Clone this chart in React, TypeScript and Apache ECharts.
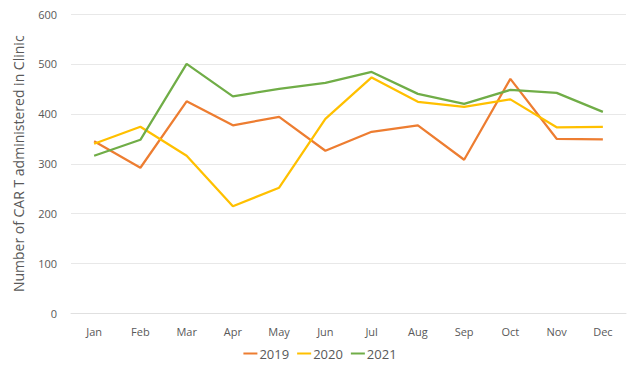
import React, { useEffect, useRef } from "react";
import * as echarts from "echarts";

const months = ["Jan", "Feb", "Mar", "Apr", "May", "Jun", "Jul", "Aug", "Sep", "Oct", "Nov", "Dec"];
const values2019 = [345, 292, 425, 377, 394, 326, 364, 377, 308, 470, 350, 349];
const values2020 = [340, 374, 316, 215, 252, 390, 473, 424, 414, 429, 373, 374];
const values2021 = [316, 348, 500, 435, 450, 462, 484, 440, 420, 448, 442, 404];
const yTicks = [0, 100, 200, 300, 400, 500, 600];

const FONT = "'Open Sans', 'Noto Sans', sans-serif";

export default function App() {
  const ref = useRef<HTMLDivElement>(null);
  useEffect(() => {
    if (!ref.current) return;
    const chart = echarts.init(ref.current, undefined, { renderer: "svg" });
    const mk = (name: string, data: number[], color: string) => ({
      name,
      type: "line",
      data,
      showSymbol: false,
      symbol: "none",
      lineStyle: { color, width: 2.25 },
      itemStyle: { color },
    });
    chart.setOption({
      animation: false,
      textStyle: { fontFamily: FONT },
      grid: { left: 71, right: 14, top: 14, bottom: 55.5 },
      legend: {
        bottom: 4,
        left: "center",
        icon: "rect",
        itemWidth: 14,
        itemHeight: 2,
        itemGap: 8,
        textStyle: { color: "#595959", fontSize: 13, fontFamily: FONT, padding: [0, 0, 0, -3] },
        data: ["2019", "2020", "2021"],
      },
      xAxis: {
        type: "category",
        data: months,
        boundaryGap: true,
        axisLine: { show: true, lineStyle: { color: "#e0e0e0" } },
        axisTick: { show: false },
        axisLabel: { color: "#595959", fontSize: 11, margin: 12, fontFamily: FONT },
      },
      yAxis: {
        type: "value",
        min: yTicks[0],
        max: yTicks[yTicks.length - 1],
        interval: 100,
        name: "Number of CAR T administered in Clinic",
        nameLocation: "middle",
        nameGap: 46,
        nameTextStyle: { color: "#595959", fontSize: 14, fontFamily: FONT },
        axisLine: { show: false },
        axisTick: { show: false },
        axisLabel: { color: "#595959", fontSize: 11, margin: 14, fontFamily: FONT },
        splitLine: { lineStyle: { color: "#e8e8e8", width: 1 } },
      },
      series: [
        mk("2019", values2019, "#ED7D31"),
        mk("2020", values2020, "#FFC000"),
        mk("2021", values2021, "#70AD47"),
      ],
    });
    return () => chart.dispose();
  }, []);
  return <div ref={ref} style={{ width: 640, height: 369, position: "absolute", left: 0, top: 0, background: "#fff" }} />;
}
